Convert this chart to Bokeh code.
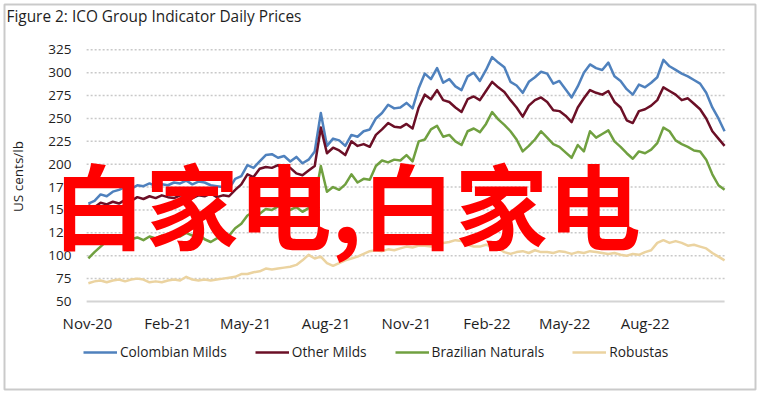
import math
import pandas as pd
from bokeh.plotting import figure
from bokeh.models import Range1d, Legend, LegendItem, Label, ColumnDataSource, BoxAnnotation
from bokeh.core.properties import value
from bokeh.embed import file_html
from bokeh.resources import INLINE

# ---------------- data (weekly readings, US cents/lb) ----------------
start_date = "2020-11-02"
n_weeks = 105

colombian_milds = [
    157, 160, 167, 165, 170, 172, 175, 173, 177, 176,
    179, 176, 178, 177, 180, 179, 182, 178, 181, 180,
    177, 176, 175, 173, 184, 187, 199, 196, 203, 210,
    211, 207, 209, 203, 208, 201, 205, 214, 256, 220,
    228, 226, 220, 232, 230, 236, 238, 250, 256, 265,
    261, 262, 267, 261, 283, 299, 293, 305, 289, 293,
    285, 281, 296, 300, 291, 303, 317, 311, 306, 290,
    286, 278, 290, 295, 301, 299, 288, 291, 282, 273,
    285, 300, 309, 305, 303, 311, 296, 291, 282, 276,
    287, 284, 289, 295, 314, 307, 303, 299, 296, 292,
    288, 278, 262, 250, 236,
]

other_milds = [
    155, 153, 158, 156, 159, 157, 161, 160, 164, 162,
    165, 163, 166, 164, 163, 166, 165, 163, 166, 165,
    168, 164, 166, 165, 172, 178, 189, 186, 195, 197,
    196, 199, 194, 196, 190, 188, 193, 198, 240, 212,
    218, 215, 210, 225, 220, 222, 219, 232, 238, 245,
    241, 240, 244, 239, 262, 276, 271, 281, 270, 268,
    262, 257, 271, 274, 270, 280, 290, 284, 279, 270,
    262, 252, 264, 270, 273, 268, 259, 258, 253, 246,
    262, 272, 281, 278, 276, 280, 268, 262, 248, 245,
    258, 260, 264, 270, 284, 280, 276, 270, 272, 266,
    260, 250, 236, 228, 220,
]

brazilian_naturals = [
    97, 104, 110, 116, 119, 117, 121, 118, 120, 117,
    121, 119, 122, 120, 124, 121, 125, 122, 124, 118,
    115, 119, 121, 122, 130, 135, 144, 148, 146, 151,
    150, 154, 152, 150, 153, 148, 152, 160, 198, 170,
    175, 172, 178, 189, 180, 184, 183, 198, 204, 202,
    205, 204, 210, 203, 225, 227, 238, 242, 230, 232,
    225, 221, 236, 239, 235, 244, 257, 249, 243, 236,
    227, 214, 220, 227, 236, 229, 222, 219, 213, 207,
    221, 214, 236, 229, 233, 237, 225, 219, 212, 206,
    214, 212, 216, 223, 240, 236, 226, 222, 219, 215,
    214, 205, 189, 177, 172,
]

robustas = [
    70, 72, 73, 71, 73, 74, 72, 74, 75, 74,
    71, 72, 71, 73, 74, 73, 77, 74, 73, 74,
    73, 74, 75, 76, 77, 80, 80, 82, 83, 86,
    85, 86, 87, 88, 90, 95, 101, 97, 99, 92,
    89, 92, 95, 97, 99, 102, 105, 106, 105, 107,
    106, 108, 110, 109, 111, 111, 110, 113, 114, 115,
    117, 116, 112, 110, 110, 112, 110, 108, 104, 102,
    104, 105, 103, 106, 104, 104, 103, 105, 104, 102,
    104, 103, 105, 104, 103, 102, 103, 101, 100, 102,
    101, 104, 106, 114, 117, 114, 116, 114, 111, 112,
    110, 108, 103, 99, 95,
]

series_names = ["Colombian Milds", "Other Milds", "Brazilian Naturals", "Robustas"]
series_colors = ["#4F81BD", "#6B0F26", "#70A040", "#EBD3A0"]
y_ticks = [50, 75, 100, 125, 150, 175, 200, 225, 250, 275, 300, 325]
y_tick_labels = [str(v) for v in y_ticks]
x_tick_dates = ["2020-11-01", "2021-02-01", "2021-05-01", "2021-08-01",
                "2021-11-01", "2022-02-01", "2022-05-01", "2022-08-01"]
x_tick_labels = ["Nov-20", "Feb-21", "May-21", "Aug-21",
                 "Nov-21", "Feb-22", "May-22", "Aug-22"]
grid_start, grid_end = "2020-10-31", "2022-10-31"

title_text = "Figure 2: ICO Group Indicator Daily Prices"
y_label = "US cents/lb"
overlay_text = "白家电,白家电"

# ---------------- layout constants ----------------
W, H = 758, 392
ORIGIN = pd.Timestamp(x_tick_dates[0])
PX_PER_DAY = 0.8739
PX_PER_UNIT = 0.91527
X0_PX, Y325_PX, Y50_PX = 87, 49.3, 301        # pixels of first tick / top / bottom gridline
x_start = ORIGIN - pd.Timedelta(days=X0_PX / PX_PER_DAY)
x_end = ORIGIN + pd.Timedelta(days=(W - X0_PX) / PX_PER_DAY)
y_top = 325 + Y325_PX / PX_PER_UNIT
y_bottom = 50 - (H - Y50_PX) / PX_PER_UNIT

FONT = "Open Sans"
TXT = "#1E1E1E"

dates = pd.date_range(start_date, periods=n_weeks, freq="7D")

p = figure(width=W, height=H, output_backend="svg", toolbar_location=None,
           x_axis_type="datetime",
           x_range=Range1d(x_start, x_end), y_range=Range1d(y_bottom, y_top),
           min_border=0)
p.xaxis.visible = False
p.yaxis.visible = False
p.xgrid.grid_line_color = None
p.ygrid.grid_line_color = None
p.background_fill_color = "white"
p.border_fill_color = "white"
p.outline_line_color = None

# outer border of the chart
p.add_layout(BoxAnnotation(left=4, right=755, bottom=H - 389, top=H - 4,
                           left_units="screen", right_units="screen",
                           bottom_units="screen", top_units="screen",
                           fill_color=None, fill_alpha=0,
                           line_color="#505050", line_width=2))

# dotted horizontal gridlines at tick values and the solid base line
gx0 = pd.Timestamp(grid_start)
gx1 = pd.Timestamp(grid_end)
grid_vals = y_ticks[1:]
p.segment(x0=[gx0] * len(grid_vals), x1=[gx1] * len(grid_vals), y0=grid_vals, y1=grid_vals,
          line_color="#C9C9C9", line_width=1.5, line_dash="2 2")
p.segment(x0=[gx0], x1=[gx1], y0=[y_ticks[0]], y1=[y_ticks[0]],
          line_color="#D4D4D4", line_width=2)

# tick labels
p.text(x=[ORIGIN - pd.Timedelta(days=18.3)] * len(y_ticks), y=y_ticks, text=y_tick_labels,
       text_align="right", text_baseline="middle", text_font=value(FONT),
       text_font_size="13.5px", text_color=TXT)
p.text(x=[pd.Timestamp(d) for d in x_tick_dates], y=[26] * len(x_tick_dates), text=x_tick_labels,
       text_align="center", text_baseline="middle", text_font=value(FONT),
       text_font_size="15px", text_color=TXT)

# data lines
renderers = []
for name, vals, col in zip(series_names,
                           [colombian_milds, other_milds, brazilian_naturals, robustas],
                           series_colors):
    src = ColumnDataSource(dict(x=dates, y=vals))
    r = p.line("x", "y", source=src, line_color=col, line_width=2.5, line_join="round")
    renderers.append(r)

legend = Legend(items=[LegendItem(label=n, renderers=[r]) for n, r in zip(series_names, renderers)],
                orientation="horizontal", location=(83, 31),
                glyph_width=34, glyph_height=16, label_height=16, label_standoff=3,
                spacing=28, padding=0, margin=0,
                border_line_color=None, background_fill_alpha=0,
                label_text_font=FONT, label_text_font_size="13.7px", label_text_color=TXT)
p.add_layout(legend, "center")

# title, axis title, overlay
p.add_layout(Label(x=6, y=H - 16, x_units="screen", y_units="screen", text=title_text,
                   text_font=FONT, text_font_size="15.4px", text_color=TXT,
                   text_baseline="middle", text_align="left"))
p.add_layout(Label(x=17, y=H - 176, x_units="screen", y_units="screen", text=y_label,
                   angle=math.pi / 2, text_font=FONT, text_font_size="13.5px", text_color=TXT,
                   text_baseline="middle", text_align="center"))
p.add_layout(Label(x=52, y=H - 202, x_units="screen", y_units="screen", text=overlay_text,
                   text_font="Noto Sans CJK SC", text_font_size="93px", text_font_style="bold",
                   text_color="#FF0000", text_baseline="middle", text_align="left"))

open("out.html", "w").write(file_html(p, INLINE))
